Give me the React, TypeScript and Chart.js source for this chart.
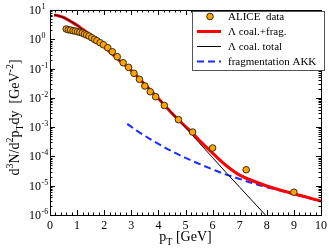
import { useEffect, useRef } from "react";
import { Chart, registerables } from "chart.js";

Chart.register(...registerables);

// ALICE data (pT in GeV, yield)
const dataPt = [0.6, 0.68, 0.76, 0.85, 0.93, 1.02, 1.1, 1.19, 1.27, 1.35, 1.44, 1.54, 1.64, 1.73, 1.85, 1.97, 2.13, 2.3, 2.48, 2.7, 2.9, 3.1, 3.3, 3.5, 3.7, 3.9, 4.22, 4.74, 5.26, 6.0, 7.24, 9.0];
const dataVal = [2.24, 2.12, 2.07, 1.96, 1.91, 1.81, 1.73, 1.64, 1.51, 1.4, 1.29, 1.13, 0.997, 0.893, 0.763, 0.652, 0.515, 0.376, 0.254, 0.158, 0.11, 0.069, 0.043, 0.0254, 0.0162, 0.0109, 0.0055, 0.0018, 6.8e-4, 1.94e-4, 3.5e-5, 6.0e-6];

// Λ coal.+frag.
const redPt = [0.15, 0.3, 0.45, 0.6, 0.8, 1.0, 1.2, 1.5, 1.75, 2.0, 2.5, 3.0, 3.5, 4.0, 4.5, 5.0, 5.25, 5.5, 6.0, 6.5, 7.0, 7.5, 8.0, 9.0, 10.0];
const redVal = [6.8, 6.4, 5.8, 5.0, 3.9, 3.0, 2.2, 1.4, 0.85, 0.55, 0.21, 0.085, 0.029, 0.0095, 0.003, 0.00105, 6.4e-4, 3.6e-4, 1.3e-4, 4.9e-5, 2.3e-5, 1.45e-5, 9.8e-6, 5.3e-6, 3.0e-6];

// Λ coal. total
const blackPt = [0.15, 0.3, 0.45, 0.6, 0.8, 1.0, 1.2, 1.5, 1.75, 2.0, 2.5, 3.0, 3.5, 4.0, 4.5, 5.0, 5.5, 6.0, 6.5, 7.0, 7.5, 8.0, 8.3];
const blackVal = [6.8, 6.4, 5.8, 5.0, 3.9, 3.0, 2.2, 1.4, 0.85, 0.55, 0.21, 0.085, 0.029, 0.0095, 0.003, 9.6e-4, 2.95e-4, 9.1e-5, 2.8e-5, 8.9e-6, 2.8e-6, 8.9e-7, 4.5e-7];

// fragmentation AKK
const bluePt = [2.85, 3.2, 3.7, 4.45, 5.0, 5.5, 6.0, 6.5, 7.0, 7.5, 8.0, 8.5, 9.0, 9.5, 10.0];
const blueVal = [1.29e-3, 7.6e-4, 3.9e-4, 1.58e-4, 8.9e-5, 5.6e-5, 3.6e-5, 2.4e-5, 1.7e-5, 1.2e-5, 8.9e-6, 6.8e-6, 5.1e-6, 3.9e-6, 2.95e-6];

const xTicks = [0, 1, 2, 3, 4, 5, 6, 7, 8, 9, 10];
const yTickExps = [1, 0, -1, -2, -3, -4, -5, -6];
const seriesLabels = ["ALICE  data", "\u039B coal.+frag.", "\u039B coal. total", "fragmentation AKK"];

const SERIF = "'Liberation Serif', 'DejaVu Serif', serif";

type Seg = { t: string; k?: "sup" | "sub" };

function drawRich(ctx: CanvasRenderingContext2D, segs: Seg[], x: number, y: number, size: number, align: "center" | "left") {
  const small = Math.round(size * 0.68);
  const widths = segs.map((s) => {
    ctx.font = `${s.k ? small : size}px ${SERIF}`;
    return ctx.measureText(s.t).width;
  });
  const total = widths.reduce((a, b) => a + b, 0);
  let cx = align === "center" ? x - total / 2 : x;
  ctx.textAlign = "left";
  ctx.textBaseline = "alphabetic";
  segs.forEach((s, i) => {
    ctx.font = `${s.k ? small : size}px ${SERIF}`;
    const dy = s.k === "sup" ? -size * 0.42 : s.k === "sub" ? size * 0.25 : 0;
    ctx.fillText(s.t, cx, y + dy);
    cx += widths[i];
  });
}

const framePlugin = {
  id: "frameTicks",
  afterDatasetsDraw(chart: any) {
    const ctx: CanvasRenderingContext2D = chart.ctx;
    const { left, right, top, bottom } = chart.chartArea;
    const xs = chart.scales.x;
    const ys = chart.scales.y;
    ctx.save();
    ctx.strokeStyle = "#000";
    ctx.lineWidth = 1;
    ctx.beginPath();
    // x ticks (major and minor) on bottom and top
    for (let i = 0; i <= 50; i++) {
      const v = i * 0.2;
      const px = Math.round(xs.getPixelForValue(v)) + 0.5;
      const len = i % 5 === 0 ? 5 : 2.5;
      ctx.moveTo(px, bottom);
      ctx.lineTo(px, bottom - len);
      ctx.moveTo(px, top);
      ctx.lineTo(px, top + len);
    }
    // y ticks on left and right
    for (const e of yTickExps) {
      for (let m = 1; m <= 9; m++) {
        const v = m * Math.pow(10, e);
        if (v > 10.0001 || v < 1e-6 * 0.999) continue;
        const py = Math.round(ys.getPixelForValue(v)) + 0.5;
        const len = m === 1 ? 5 : 2.5;
        ctx.moveTo(left, py);
        ctx.lineTo(left + len, py);
        ctx.moveTo(right, py);
        ctx.lineTo(right - len, py);
      }
    }
    ctx.stroke();
    ctx.lineWidth = 1;
    ctx.strokeRect(Math.round(left) + 0.5, Math.round(top) + 0.5, Math.round(right - left), Math.round(bottom - top));

    // tick labels
    ctx.fillStyle = "#000";
    ctx.font = `12px ${SERIF}`;
    ctx.textAlign = "center";
    ctx.textBaseline = "alphabetic";
    for (const t of xTicks) {
      ctx.fillText(String(t), xs.getPixelForValue(t), bottom + 14);
    }
    for (const e of yTickExps) {
      const py = ys.getPixelForValue(Math.pow(10, e));
      ctx.font = `12px ${SERIF}`;
      ctx.textAlign = "right";
      ctx.fillText("10", 41, py + 4);
      ctx.font = `8px ${SERIF}`;
      ctx.textAlign = "left";
      ctx.fillText(String(e), 41.5, py - 1);
    }

    // axis titles
    drawRich(ctx, [{ t: "p" }, { t: "T", k: "sub" }, { t: " [GeV]" }], (left + right) / 2, bottom + 26, 14, "center");
    ctx.save();
    ctx.translate(19, (top + bottom) / 2 + 5);
    ctx.rotate(-Math.PI / 2);
    drawRich(
      ctx,
      [
        { t: "d" }, { t: "3", k: "sup" }, { t: "N/d" }, { t: "2", k: "sup" }, { t: "p" }, { t: "T", k: "sub" },
        { t: "dy  [GeV" }, { t: "-2", k: "sup" }, { t: "]" },
      ],
      0, 0, 14, "center"
    );
    ctx.restore();
    ctx.restore();
  },
  afterDraw(chart: any) {
    const ctx: CanvasRenderingContext2D = chart.ctx;
    const ds = chart.data.datasets;
    ctx.save();
    const bx = 192.5, by = 11.5, bw = 132, bh = 59;
    ctx.fillStyle = "#fff";
    ctx.fillRect(bx, by, bw, bh);
    ctx.strokeStyle = "#555";
    ctx.lineWidth = 1;
    ctx.strokeRect(bx, by, bw, bh);
    const rowY = [16.5, 31.5, 46.5, 61.5];
    ds.forEach((d: any, i: number) => {
      const y = rowY[i];
      if (i === 0) {
        ctx.beginPath();
        ctx.arc(210, y, 3.3, 0, Math.PI * 2);
        ctx.fillStyle = d.backgroundColor;
        ctx.fill();
        ctx.strokeStyle = d.borderColor;
        ctx.lineWidth = 1;
        ctx.stroke();
      } else {
        ctx.beginPath();
        ctx.strokeStyle = d.borderColor;
        ctx.lineWidth = d.borderWidth;
        ctx.setLineDash(d.borderDash || []);
        ctx.moveTo(197, y);
        ctx.lineTo(221, y);
        ctx.stroke();
        ctx.setLineDash([]);
      }
      ctx.fillStyle = "#000";
      ctx.font = `11px ${SERIF}`;
      ctx.textAlign = "left";
      ctx.textBaseline = "middle";
      ctx.fillText(d.label, 228, y + 0.5);
    });
    ctx.restore();
  },
};

function pts(xs: number[], ys: number[]) {
  return xs.map((x, i) => ({ x, y: ys[i] }));
}

export default function App() {
  const ref = useRef<HTMLCanvasElement | null>(null);
  useEffect(() => {
    document.body.style.margin = "0";
    const canvas = ref.current!;
    const chart = new Chart(canvas, {
      type: "scatter",
      data: {
        datasets: [
          {
            label: seriesLabels[0],
            data: pts(dataPt, dataVal),
            showLine: false,
            pointRadius: 3.3,
            pointBackgroundColor: "#FFA500",
            pointBorderColor: "#3a2a10",
            pointBorderWidth: 1,
            backgroundColor: "#FFA500",
            borderColor: "#3a2a10",
            order: 0,
            clip: 0,
          } as any,
          {
            label: seriesLabels[1],
            data: pts(redPt, redVal),
            showLine: true,
            pointRadius: 0,
            borderColor: "#FF0000",
            borderWidth: 3,
            cubicInterpolationMode: "monotone",
            order: 2,
            clip: 0,
          },
          {
            label: seriesLabels[2],
            data: pts(blackPt, blackVal),
            showLine: true,
            pointRadius: 0,
            borderColor: "#000000",
            borderWidth: 1,
            cubicInterpolationMode: "monotone",
            order: 1,
            clip: 0,
          },
          {
            label: seriesLabels[3],
            data: pts(bluePt, blueVal),
            showLine: true,
            pointRadius: 0,
            borderColor: "#1a2cff",
            borderWidth: 2,
            borderDash: [7, 4],
            cubicInterpolationMode: "monotone",
            order: 3,
            clip: 0,
          },
        ],
      },
      options: {
        responsive: false,
        animation: false,
        devicePixelRatio: 1,
        layout: { padding: { left: 50, top: 10, right: 8, bottom: 33 } },
        plugins: { legend: { display: false }, tooltip: { enabled: false } },
        events: [],
        scales: {
          x: { type: "linear", min: 0, max: 10, display: false },
          y: { type: "logarithmic", min: 1e-6, max: 10, display: false },
        },
      },
      plugins: [framePlugin],
    });
    return () => chart.destroy();
  }, []);
  return (
    <div style={{ width: 329, height: 248, background: "#fff" }}>
      <canvas ref={ref} width={329} height={248} style={{ display: "block" }} />
    </div>
  );
}
